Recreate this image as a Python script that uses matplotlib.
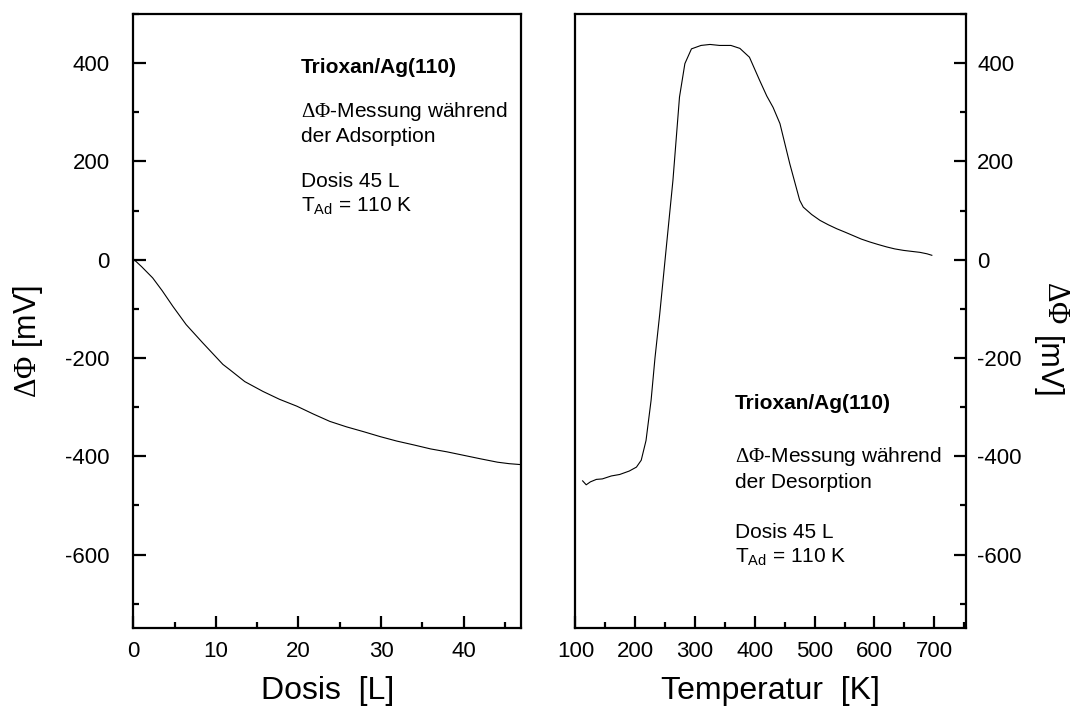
import numpy as np
import matplotlib
matplotlib.use("Agg")
import matplotlib.pyplot as plt
from matplotlib.ticker import MultipleLocator

plt.rcParams['font.family'] = ['Liberation Sans', 'DejaVu Sans']
plt.rcParams['mathtext.fontset'] = 'custom'
plt.rcParams['mathtext.rm'] = 'Liberation Serif'
plt.rcParams['mathtext.sf'] = 'Liberation Sans'
plt.rcParams['axes.unicode_minus'] = False

# left panel: work function change during adsorption
dose = [0, 0.3, 1.0, 2.35, 3.5, 4.8, 6.4, 8.4, 10.85, 11.7, 13.5, 15.7,
        17.7, 19.8, 21.8, 23.8, 25.8, 27.9, 29.9, 31.9, 34.0, 36.0, 38.0,
        40.0, 42.0, 44.1, 45.5, 47.0]
dphi_ads = [0, -3, -14, -37, -63, -95, -132, -169, -213, -224, -248, -268,
            -284, -298, -314, -329, -340, -350, -360, -369, -377, -385, -391,
            -398, -405, -412, -415, -417]

# right panel: work function change during desorption
temp = [112, 118, 125, 135, 145, 160, 174, 190, 202, 210, 218, 226.5, 233,
        241, 252, 263, 274, 283, 294, 310, 325, 341, 360, 375, 391, 408,
        420, 430.5, 442, 458.5, 475, 481, 495, 509, 523, 537, 551, 564.5,
        578, 592.5, 606, 620.5, 634, 648.5, 662, 676, 688, 696]
dphi_des = [-450, -458, -452, -447, -446, -440, -437, -430, -422, -408,
            -368, -286, -200, -110, 26, 161, 331, 399, 429, 436, 438, 436,
            436, 430, 412, 365, 333, 310, 277, 195, 121, 107, 92, 80, 71,
            63, 56, 49, 42, 36, 31, 26, 22, 19, 17, 15, 12, 9]

fig = plt.figure(figsize=(10.73, 7.17), dpi=100)
ax1 = fig.add_axes([0.1242, 0.1237, 0.3618, 0.8568])
ax2 = fig.add_axes([0.5363, 0.1237, 0.3639, 0.8568])

ax1.plot(dose, dphi_ads, color='black', lw=0.8)
ax2.plot(temp, dphi_des, color='black', lw=0.8)

ax1.set_xlim(0, 47)
ax2.set_xlim(100, 753)
for ax in (ax1, ax2):
    ax.set_ylim(-750, 500)
    ax.yaxis.set_major_locator(MultipleLocator(200))
    ax.yaxis.set_minor_locator(MultipleLocator(100))
    for s in ax.spines.values():
        s.set_linewidth(1.6)
    ax.tick_params(which='both', direction='in', width=1.6, labelsize=16)
    ax.tick_params(which='major', length=9)
    ax.tick_params(which='minor', length=4.5)
    ax.tick_params(axis='x', pad=9)

ax1.xaxis.set_major_locator(MultipleLocator(10))
ax1.xaxis.set_minor_locator(MultipleLocator(5))
ax2.xaxis.set_major_locator(MultipleLocator(100))
ax2.xaxis.set_minor_locator(MultipleLocator(50))

ax1.tick_params(axis='y', which='both', left=True, right=False, pad=17)
ax2.tick_params(axis='y', which='both', left=False, right=True,
                labelleft=False, labelright=True, pad=8)

ax1.set_xlabel('Dosis  [L]', fontsize=23, labelpad=10)
ax2.set_xlabel('Temperatur  [K]', fontsize=23, labelpad=10)

fig.text(28 / 1073, 1 - 342 / 717, r'$\Delta\Phi$ [mV]', fontsize=22,
         rotation=90, ha='center', va='center')
fig.text(1056 / 1073, 1 - 302 / 717, r'$\Delta\Phi$', fontsize=22,
         rotation=270, ha='center', va='center')
fig.text(1047 / 1073, 1 - 367 / 717, '[mV]', fontsize=22,
         rotation=270, ha='center', va='center')

# annotations
left_lines = [('Trioxan/Ag(110)', 392, 'bold'),
              (r'$\Delta\Phi$-Messung während', 301, 'normal'),
              ('der Adsorption', 250, 'normal'),
              ('Dosis 45 L', 159, 'normal'),
              (r'T$_{\mathsf{Ad}}$ = 110 K', 108, 'normal')]
for txt, yv, fw in left_lines:
    ax1.text(20.3, yv, txt, fontsize=15, fontweight=fw, ha='left', va='center')

right_lines = [('Trioxan/Ag(110)', -292, 'bold'),
               (r'$\Delta\Phi$-Messung während', -400, 'normal'),
               ('der Desorption', -453, 'normal'),
               ('Dosis 45 L', -555, 'normal'),
               (r'T$_{\mathsf{Ad}}$ = 110 K', -606, 'normal')]
for txt, yv, fw in right_lines:
    ax2.text(366, yv, txt, fontsize=15, fontweight=fw, ha='left', va='center')

fig.savefig('out.png', dpi=100)
